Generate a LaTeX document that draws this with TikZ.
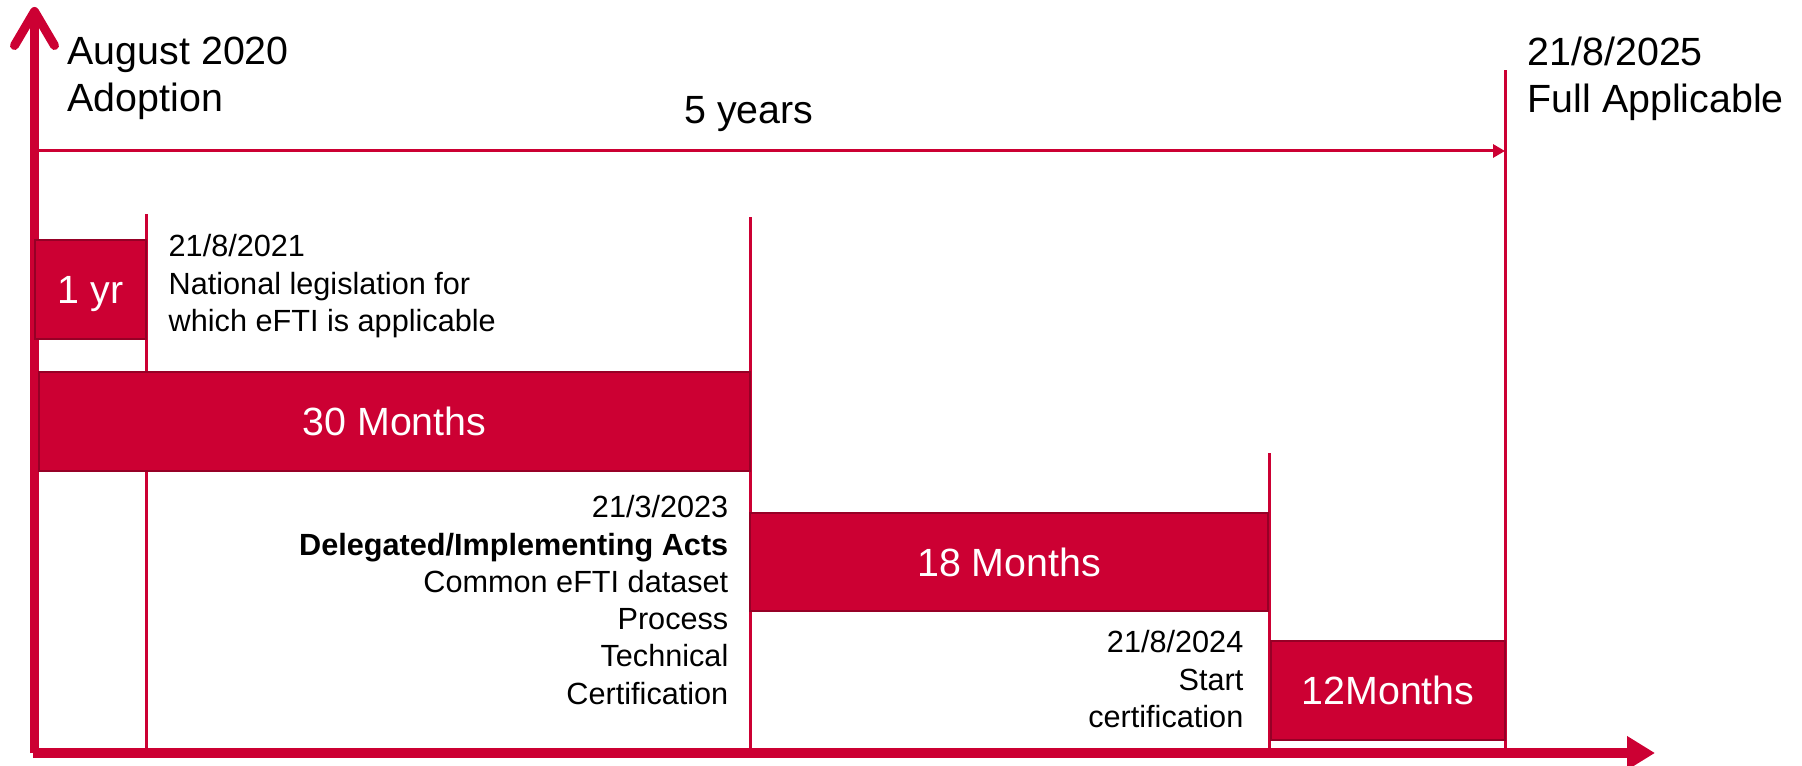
\documentclass[tikz,border=0pt]{standalone}
\usepackage{fontspec}
\setmainfont{Liberation Sans}
\usetikzlibrary{arrows.meta}

\begin{document}
\begin{tikzpicture}[
    bigtxt/.style={inner sep=0pt,font=\fontsize{11.2}{13.4}\selectfont},
    smalltxt/.style={inner sep=0pt,font=\fontsize{8.72}{10.6}\selectfont},
    bar/.style={shape=rectangle,draw=efti_edge,line width=0.5pt,fill=efti_bar,text=white,inner sep=0pt,text depth=0pt,font=\fontsize{11.2}{13.4}\selectfont},
    markline/.style={efti_bar,line width=0.03cm}
  ]
    \definecolor{efti_bar}{RGB}{204,0,51}
    \definecolor{efti_edge}{RGB}{150,0,38}
    \useasboundingbox (0,0) rectangle (18.02,7.65);
    \coordinate (origin) at (0.345,0.12);
    \coordinate (ytop) at (0.345,7.58);
    \coordinate (xstart) at (0.33,0.12);
    \coordinate (xend) at (16.55,0.12);
    \coordinate (span_start) at (0.39,6.14);
    \coordinate (span_end) at (15.05,6.14);
    \draw[markline] (1.46,0.12) to (1.46,5.51);
    \draw[markline] (7.505,0.12) to (7.505,5.48);
    \draw[markline] (12.69,0.12) to (12.69,3.12);
    \draw[markline] (15.05,0.12) to (15.05,6.95);
    \draw[markline,-{Triangle[length=1.2mm,width=1.3mm]}] (span_start) to (span_end);
    \draw[efti_bar,line width=0.09cm,-{Straight Barb[length=3.4mm,width=4mm,line cap=round,line join=round]}] (origin) to (ytop);
    \draw[efti_bar,line width=0.1cm,-{Triangle[length=2.8mm,width=3.2mm]}] (xstart) to (xend);
    \node[bar,minimum width=1.11cm,minimum height=0.99cm] (yr1) at (0.905,4.755) {1 yr};
    \node[bar,minimum width=7.11cm,minimum height=0.99cm] (m30) at (3.945,3.435) {30 Months};
    \node[bar,minimum width=5.18cm,minimum height=0.98cm] (m18) at (10.09,2.03) {18 Months};
    \node[bar,minimum width=2.34cm,minimum height=0.99cm] (m12) at (13.88,0.745) {12Months};
    \node[bigtxt,anchor=north west,align=left] (adoption) at (0.67,7.29) {August 2020\\Adoption};
    \node[bigtxt,anchor=north west,align=left] (fullapp) at (15.27,7.29) {21/8/2025\\Full Applicable};
    \node[bigtxt,anchor=base] (fiveyears) at (7.49,6.41) {5 years};
    \node[smalltxt,anchor=north west,align=left] (d2021) at (1.68,5.31) {21/8/2021\\National legislation for\\which eFTI is applicable};
    \node[smalltxt,anchor=north east,align=right] (d2023) at (7.29,2.70) {21/3/2023\\\textbf{Delegated/Implementing Acts}\\Common eFTI dataset\\Process\\Technical\\Certification};
    \node[smalltxt,anchor=north east,align=right] (d2024) at (12.44,1.35) {21/8/2024\\Start\\certification};
\end{tikzpicture}
\end{document}
